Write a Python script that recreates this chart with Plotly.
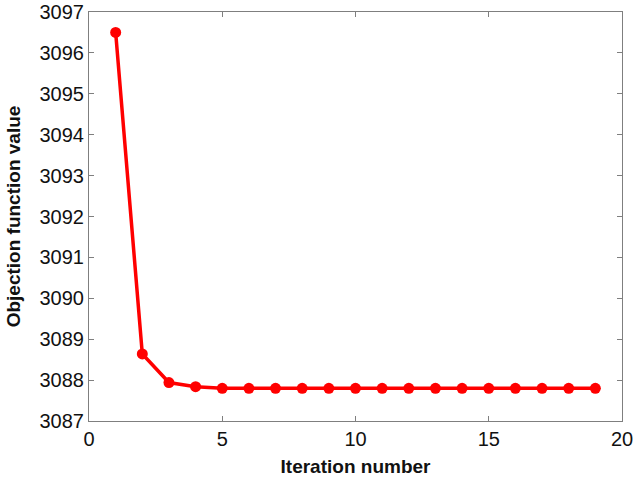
import plotly.graph_objects as go

iterations = list(range(1, 20))
objective = [3096.5, 3088.64, 3087.94, 3087.84] + [3087.80] * 15
x_ticks = [0, 5, 10, 15, 20]
y_ticks = list(range(3087, 3098))

FONT = "Liberation Sans, Arial"

fig = go.Figure()
fig.add_trace(go.Scatter(
    x=iterations, y=objective, mode="lines+markers",
    line=dict(color="#ff0000", width=3.5),
    marker=dict(color="#ff0000", size=11),
    showlegend=False,
))

axis_common = dict(
    showgrid=False, zeroline=False, showline=True, linecolor="#7f7f7f", linewidth=1,
    mirror="ticks", ticks="inside", ticklen=5, tickcolor="#7f7f7f", automargin=False,
    tickfont=dict(family=FONT, size=20, color="#111111"),
)
fig.update_xaxes(range=[0, 20], tickvals=x_ticks,
                 title=dict(text="<b>Iteration number</b>", font=dict(family=FONT, size=19, color="#111111"), standoff=10),
                 **axis_common)
fig.update_yaxes(range=[3087, 3097], tickvals=y_ticks,
                 title=dict(text="<b>Objection function value</b>", font=dict(family=FONT, size=19, color="#111111"), standoff=13),
                 **axis_common)
fig.update_layout(
    width=638, height=477,
    margin=dict(l=89, r=16, t=12, b=56),
    plot_bgcolor="white", paper_bgcolor="white",
)
fig.write_html("out.html", config={"displayModeBar": False},
               post_script="document.body.style.margin='0';")
